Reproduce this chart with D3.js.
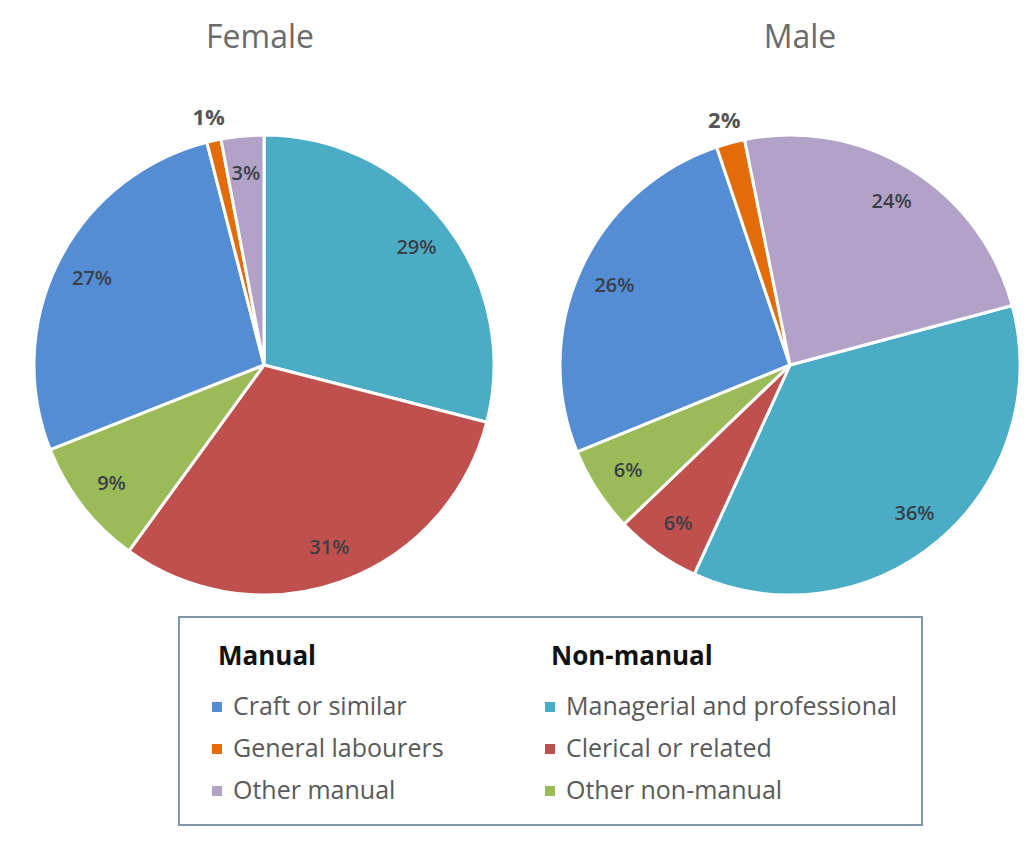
<!DOCTYPE html>
<html>
<head>
<meta charset="utf-8">
<script src="https://cdn.jsdelivr.net/npm/d3@7"></script>
<style>
  body { margin: 0; background: #ffffff; }
  svg { display: block; font-family: "Open Sans", "Noto Sans", sans-serif; }
</style>
</head>
<body>
<div id="chart"></div>
<script>
// categories in pie order (clockwise)
const categories = ["Managerial and professional", "Clerical or related", "Other non-manual",
                    "Craft or similar", "General labourers", "Other manual"];
const femaleValues = [29, 31, 9, 27, 1, 3];
const maleValues = [36, 6, 6, 26, 2, 24];
const colors = ["#4bacc6", "#c0504d", "#9bbb59", "#548dd4", "#e36c09", "#b3a2c7"];

const manualGroup = ["Craft or similar", "General labourers", "Other manual"];
const nonManualGroup = ["Managerial and professional", "Clerical or related", "Other non-manual"];

const width = 1024, height = 848;
const radius = 230;

const svg = d3.select("#chart").append("svg")
    .attr("width", width)
    .attr("height", height);

const color = d3.scaleOrdinal().domain(categories).range(colors);

function drawPie(values, title, cx, titleX, startDeg) {
    const start = startDeg * Math.PI / 180;
    const pie = d3.pie().sort(null)
        .startAngle(start)
        .endAngle(start + 2 * Math.PI);
    const data = pie(values).map((p, i) => Object.assign(p, { name: categories[i] }));

    const g = svg.append("g").attr("transform", `translate(${cx},365)`);

    const arc = d3.arc().innerRadius(0).outerRadius(radius);
    const inner = d3.arc().innerRadius(193).outerRadius(193);
    const outer = d3.arc().innerRadius(254).outerRadius(254);

    g.selectAll("path.slice")
        .data(data)
        .join("path")
        .attr("class", "slice")
        .attr("d", arc)
        .attr("fill", d => color(d.name))
        .attr("stroke", "#fff")
        .attr("stroke-width", 3)
        .attr("stroke-linejoin", "round");

    g.selectAll("text.lbl")
        .data(data)
        .join("text")
        .attr("class", "lbl")
        .attr("transform", d => `translate(${(d.value <= 2 ? outer : inner).centroid(d)})`)
        .attr("text-anchor", "middle")
        .attr("dy", "0.36em")
        .attr("font-size", d => d.value <= 2 ? 22 : 20)
        .attr("font-weight", d => d.value <= 2 ? 700 : 600)
        .attr("fill", d => d.value <= 2 ? "#555" : "#3a3f47")
        .text(d => d.value + "%");

    svg.append("text")
        .attr("x", titleX)
        .attr("y", 48)
        .attr("text-anchor", "middle")
        .attr("font-size", 32)
        .attr("fill", "#6b6b6b")
        .text(title);
}

drawPie(femaleValues, "Female", 264, 260, 0);
drawPie(maleValues, "Male", 790, 800, 75);

// legend
const legend = svg.append("g");
legend.append("rect")
    .attr("x", 179).attr("y", 617)
    .attr("width", 743).attr("height", 208)
    .attr("fill", "#fff")
    .attr("stroke", "#8096ab")
    .attr("stroke-width", 2);

function legendColumn(x, heading, names) {
    legend.append("text")
        .attr("x", x + 6).attr("y", 665)
        .attr("font-size", 26)
        .attr("font-weight", 700)
        .attr("fill", "#111")
        .text(heading);
    names.forEach((n, i) => {
        const y = 715 + i * 42;
        legend.append("rect")
            .attr("x", x).attr("y", y - 13)
            .attr("width", 10).attr("height", 10)
            .attr("fill", color(n));
        legend.append("text")
            .attr("x", x + 21).attr("y", y)
            .attr("font-size", 25)
            .attr("fill", "#595959")
            .text(n);
    });
}

legendColumn(212, "Manual", manualGroup);
legendColumn(545, "Non-manual", nonManualGroup);
</script>
</body>
</html>
